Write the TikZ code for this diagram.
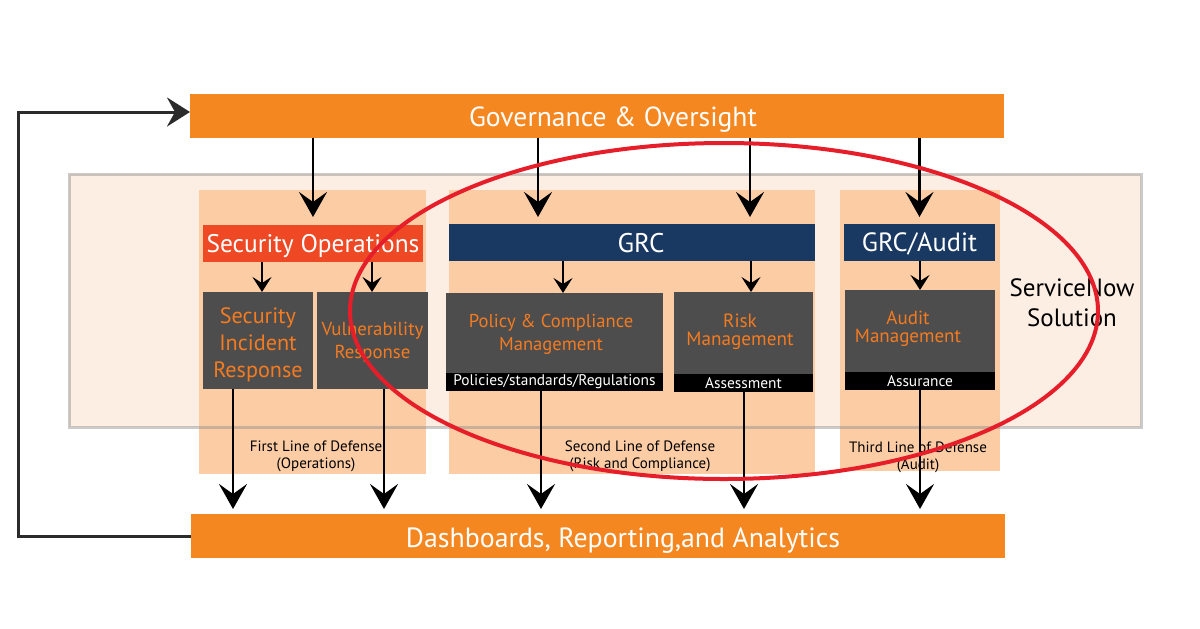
\documentclass[tikz,border=0pt]{standalone}
\usepackage{fontspec}
\setmainfont{PT Sans}
\usetikzlibrary{arrows.meta,calc}
\definecolor{barorange}{HTML}{F58721}
\definecolor{colbg}{HTML}{FCCDA5}
\definecolor{snfill}{HTML}{FDEEE3}
\definecolor{secred}{HTML}{EE4824}
\definecolor{navy}{HTML}{1A3962}
\definecolor{boxgray}{HTML}{4D4D4D}
\definecolor{txtorange}{HTML}{F47B20}
\definecolor{ellred}{HTML}{E61E2A}
\definecolor{fbgray}{HTML}{2B2B2B}
\tikzset{
  blk/.style={anchor=north west, inner sep=0pt, outer sep=0pt, draw=none},
  bar/.style={blk, fill=barorange},
  bartext/.style={text=white, inner sep=0pt, text depth=0pt},
  column/.style={blk, fill=colbg},
  head/.style={blk, text=white, text depth=0pt},
  gbox/.style={blk, fill=boxgray},
  gtext/.style={text=txtorange, align=center, inner sep=0pt},
  strip/.style={blk, fill=black, text=white, font=\fontsize{7.7}{8}\selectfont},
  lod/.style={align=center, inner sep=0pt, font=\fontsize{7.5}{8.6}\selectfont},
  big/.style={-{Stealth[length=12.5pt,width=14pt,inset=5pt]}, line width=1.3pt, black},
  small/.style={-{Stealth[length=7.5pt,width=9.5pt,inset=3pt]}, line width=1.1pt, black},
}
\begin{document}
\begin{tikzpicture}[x=0.5pt,y=-0.5pt]
\useasboundingbox (0,0) rectangle (1200,628);
% service now box
\node[blk, fill=snfill, minimum width=536pt, minimum height=126.5pt] (sn) at (69,174) {};
% columns
\node[column, minimum width=113.5pt, minimum height=142pt] (col1) at (199,190) {};
\node[column, minimum width=183pt, minimum height=142pt] (col2) at (449,190) {};
\node[column, minimum width=80pt, minimum height=140.5pt] (col3) at (840,190) {};
\draw[line width=1.5pt, draw=gray!50!black!60, opacity=0.45] (sn.north west) rectangle (sn.south east);
% bars
\node[bar, minimum width=407pt, minimum height=22pt] (gov) at (190,94) {};
\node[bartext, font=\fontsize{13.8}{16}\selectfont] (govt) at (613,117) {Governance \& Oversight};
\node[bar, minimum width=407pt, minimum height=22pt] (dash) at (191,514) {};
\node[bartext, font=\fontsize{13.9}{16}\selectfont] (dasht) at (623,538) {Dashboards, Reporting,and Analytics};
% heads
\node[head, fill=secred, minimum width=110pt, minimum height=18.5pt, font=\fontsize{12.7}{14}\selectfont] (secops) at (203,225) {Security Operations};
\node[head, fill=navy, minimum width=183pt, minimum height=18.5pt] (grc) at (449,224) {};
\node[bartext, font=\fontsize{13.5}{14}\selectfont] (grct) at (641,242.5) {GRC};
\node[head, fill=navy, minimum width=75.5pt, minimum height=18.5pt, font=\fontsize{13.2}{14}\selectfont] (grca) at (844,224) {GRC/Audit};
% gray boxes
\node[gbox, minimum width=55pt, minimum height=48.5pt] (sir) at (203,292) {};
\node[gtext, font=\fontsize{11.1}{13.5}\selectfont] (sirt) at (258,344.5) {Security\\Incident\\Response};
\node[gbox, minimum width=55.5pt, minimum height=48.5pt] (vr) at (317,292) {};
\node[gtext, font=\fontsize{9.4}{11.5}\selectfont] (vrt) at (372.5,342.5) {Vulnerability\\Response};
\node[gbox, minimum width=108.5pt, minimum height=40pt] (pcm) at (446,293) {};
\node[gtext, font=\fontsize{9.3}{11.5}\selectfont] (pcmt) at (551,334) {Policy \& Compliance\\Management};
\node[strip, minimum width=108.5pt, minimum height=9pt] (pcs) at (446,373) {Policies/standards/Regulations};
\node[gbox, minimum width=69.5pt, minimum height=41pt] (rm) at (674,292) {};
\node[gtext, font=\fontsize{9.6}{9}\selectfont] (rmt) at (740,332) {Risk\\Management};
\node[strip, minimum width=69.5pt, minimum height=9pt] (rms) at (674,374) {Assessment};
\node[gbox, minimum width=75pt, minimum height=41pt] (am) at (845,290) {};
\node[gtext, font=\fontsize{9.5}{9}\selectfont] (amt) at (908,329) {Audit\\Management};
\node[strip, minimum width=75pt, minimum height=9pt] (ams) at (845,372) {Assurance};
% labels
\node[lod] (l1) at (316,456) {First Line of Defense\\(Operations)};
\node[lod] (l2) at (640,456) {Second Line of Defense\\(Risk and Compliance)};
\node[lod] (l3) at (918,457) {Third Line of Defense\\(Audit)};
\node[align=center, inner sep=0pt, font=\fontsize{12.5}{15}\selectfont] (snl) at (1072,303) {ServiceNow\\Solution};
% coordinates
\coordinate (g1) at (538,217);
\coordinate (g2) at (750,217);
\coordinate (s1) at (262,292);
\coordinate (s2) at (372,292);
\coordinate (p1) at (563,293);
\coordinate (r1) at (751,292);
\coordinate (b1) at (233,514);
\coordinate (b2) at (384,514);
\coordinate (b3) at (541,514);
\coordinate (b4) at (744,514);
\coordinate (b5) at (920,514);
\coordinate (fb) at (18,300);
% arrows from governance
\draw[big, shorten >=4pt] (gov.south -| secops.north) -- (secops.north);
\draw[big] (gov.south -| g1) -- (g1);
\draw[big] (gov.south -| g2) -- (g2);
\draw[big, shorten >=3.5pt] (gov.south -| grca.north) -- (grca.north);
% small arrows
\draw[small] (secops.south -| s1) -- (s1);
\draw[small] (secops.south -| s2) -- (s2);
\draw[small] (grc.south -| p1) -- (p1);
\draw[small] (grc.south -| r1) -- (r1);
\draw[small] (grca.south -| am.north) -- (am.north);
% down arrows
\draw[big, shorten >=2.5pt] (sir.south -| b1) -- (b1);
\draw[big, shorten >=2.5pt] (vr.south -| b2) -- (b2);
\draw[big, shorten >=2.5pt] (pcs.south -| b3) -- (b3);
\draw[big, shorten >=2.5pt] (rms.south -| b4) -- (b4);
\draw[big, shorten >=2.5pt] (ams.south -| b5) -- (b5);
% feedback
\draw[fbgray, line width=1.5pt, -{Stealth[length=11.5pt,width=14.5pt,inset=4pt]}]
  (dash.west) -| (fb) |- ([yshift=2pt]gov.west);
% red ellipse
\draw[ellred, line width=2pt] (724,311) ellipse [x radius=187pt, y radius=84pt];
\end{tikzpicture}
\end{document}
